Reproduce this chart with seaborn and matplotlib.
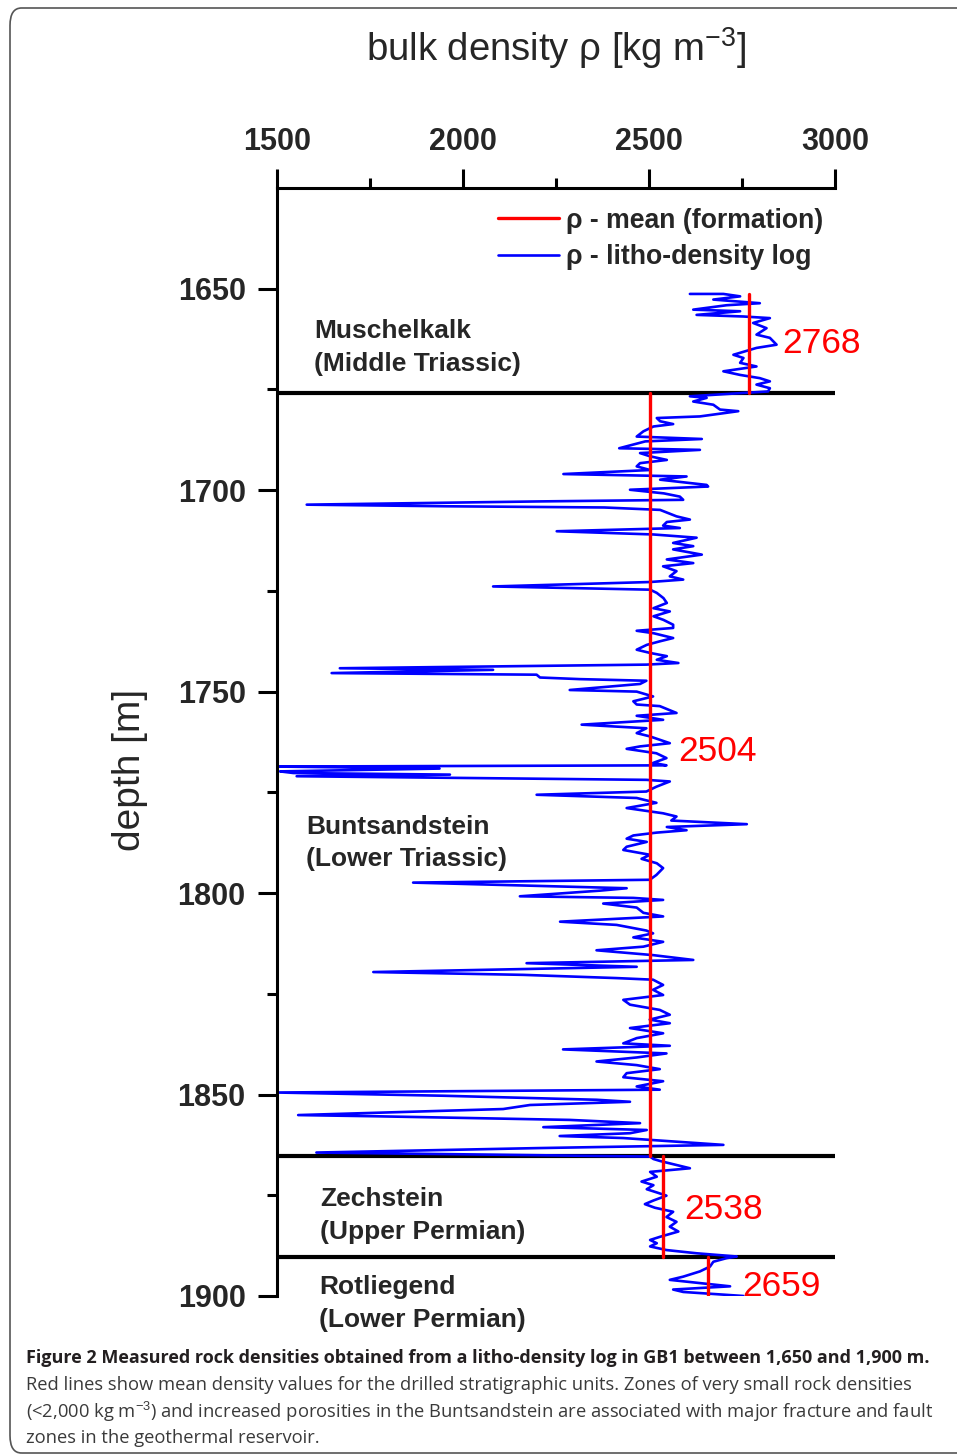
"""Litho-density log GB1, 1650-1900 m."""

import matplotlib.pyplot as plt
import pandas as pd
import seaborn as sns
from matplotlib import font_manager
from matplotlib.lines import Line2D
from matplotlib.patches import FancyBboxPatch

# DATA
depth_m = [
    1651.3, 1651.3, 1651.9, 1652.7, 1653.6, 1654.1, 1655.2, 1655.6, 1656.5, 1656.9,
    1657.3, 1658.5, 1659.8, 1661.4, 1662.2, 1663.9, 1664.7, 1666.4, 1667.2, 1668.4,
    1669.3, 1670.5, 1671.4, 1672.2, 1673.0, 1673.8, 1674.7, 1675.5,
    1676.7, 1677.1, 1678.0, 1678.8, 1680.0, 1680.4, 1681.7, 1682.1, 1682.9, 1683.6,
    1684.2, 1684.6, 1685.4, 1686.7, 1687.3, 1687.9, 1689.6, 1690.0, 1690.8, 1691.6,
    1692.5, 1693.3, 1694.1, 1695.0, 1696.0, 1696.6, 1697.4, 1698.7, 1699.1, 1699.9,
    1700.8, 1701.6, 1702.4, 1702.8, 1703.6, 1704.0, 1704.3, 1704.9, 1706.5, 1707.3,
    1707.9, 1708.8, 1709.4, 1710.2, 1711.0, 1711.8, 1713.1, 1713.9, 1714.7, 1716.0,
    1717.2, 1718.1, 1718.9, 1720.1, 1721.4, 1722.2, 1722.8, 1723.9, 1724.7, 1725.5,
    1726.8, 1728.0, 1729.3, 1730.1, 1731.3, 1732.2, 1733.4, 1734.2, 1734.9, 1735.5,
    1736.7, 1737.5, 1738.4, 1739.6, 1740.4, 1741.2, 1742.1, 1742.9, 1743.3, 1744.2,
    1744.6, 1745.4, 1745.8, 1746.5, 1746.9, 1747.3, 1748.1, 1749.6, 1750.0, 1751.2,
    1752.4, 1753.2, 1753.6, 1755.3, 1756.0, 1757.0, 1758.2, 1759.1, 1760.3, 1761.1,
    1762.8, 1763.6, 1764.2, 1765.3, 1766.5, 1767.7, 1768.3, 1768.6, 1769.1, 1769.8,
    1770.2, 1770.6, 1771.0, 1771.9, 1772.3, 1773.6, 1774.8, 1775.6, 1776.4, 1777.6,
    1778.9, 1780.2, 1781.0, 1782.0, 1782.9, 1783.6, 1784.4, 1785.0, 1785.7, 1786.5,
    1787.3, 1788.5, 1789.3, 1790.5, 1791.5, 1792.6, 1793.8, 1795.5, 1796.7, 1797.4,
    1798.8, 1799.4, 1800.8, 1801.2, 1801.7, 1802.6, 1803.6, 1804.9, 1805.8, 1807.1,
    1807.9, 1809.3, 1810.0, 1811.0, 1812.1, 1813.3, 1814.2, 1815.4, 1816.6, 1817.4,
    1818.3, 1819.6, 1820.3, 1821.1, 1821.5, 1822.8, 1824.0, 1825.3, 1826.5, 1827.7,
    1829.0, 1830.2, 1831.4, 1832.3, 1833.5, 1834.8, 1836.0, 1837.3, 1837.9, 1838.8,
    1839.8, 1840.8, 1841.8, 1842.7, 1843.7, 1844.7, 1845.7, 1846.7, 1848.0, 1848.8,
    1849.5, 1850.3, 1851.3, 1851.8, 1852.6, 1853.6, 1855.1, 1855.4, 1856.3, 1857.1,
    1858.1, 1858.8, 1859.6, 1860.3, 1860.8, 1861.3, 1862.5, 1863.3, 1864.4, 1865.4,
    1866.0, 1866.5, 1868.3, 1869.2, 1870.4, 1871.6, 1872.5, 1873.5, 1874.3, 1875.1,
    1876.3, 1877.2, 1878.1, 1879.1, 1880.4, 1881.6, 1882.8, 1884.0, 1885.3, 1886.1,
    1886.9, 1887.7, 1888.6, 1889.4, 1890.2,
    1890.6, 1891.5, 1892.7, 1893.9, 1895.2, 1896.0, 1896.8, 1897.6, 1898.4, 1899.0,
    1900.0,
]
rho_log = [
    2610, 2700, 2745, 2673, 2798, 2709, 2619, 2745, 2628, 2754,
    2825, 2780, 2816, 2789, 2825, 2843, 2789, 2727, 2754, 2745,
    2789, 2700, 2745, 2798, 2825, 2789, 2825, 2820,
    2610, 2655, 2619, 2673, 2691, 2740, 2637, 2521, 2530, 2565,
    2512, 2503, 2485, 2467, 2642, 2490, 2420, 2637, 2476, 2503,
    2548, 2476, 2467, 2503, 2270, 2601, 2530, 2655, 2659, 2449,
    2540, 2583, 2592, 2200, 1580, 1956, 2380, 2530, 2574, 2610,
    2548, 2538, 2583, 2252, 2512, 2628, 2565, 2619, 2565, 2642,
    2548, 2619, 2538, 2574, 2556, 2592, 2503, 2081, 2503, 2521,
    2539, 2548, 2512, 2556, 2512, 2539, 2565, 2565, 2467, 2512,
    2565, 2530, 2494, 2467, 2503, 2548, 2521, 2579, 2493, 1669,
    2081, 1647, 2198, 2207, 2314, 2493, 2476, 2287, 2467, 2511,
    2458, 2467, 2529, 2574, 2467, 2538, 2319, 2493, 2467, 2502,
    2556, 2476, 2440, 2520, 2547, 2511, 2547, 1500, 1937, 1508,
    1544, 1965, 1553, 2493, 2556, 2520, 2493, 2198, 2467, 2520,
    2440, 2538, 2574, 2560, 2763, 2548, 2601, 2520, 2458, 2440,
    2494, 2440, 2431, 2503, 2480, 2521, 2538, 2520, 2502, 1866,
    2440, 2368, 2153, 2458, 2538, 2377, 2467, 2485, 2538, 2261,
    2413, 2493, 2511, 2458, 2538, 2485, 2359, 2511, 2619, 2171,
    2467, 1759, 2162, 2413, 2511, 2538, 2511, 2538, 2431, 2449,
    2529, 2556, 2502, 2556, 2449, 2538, 2467, 2431, 2556, 2269,
    2547, 2467, 2359, 2467, 2529, 2440, 2431, 2538, 2467, 2529,
    1500, 1947, 2359, 2449, 2180, 2108, 1557, 1768, 2287, 2476,
    2216, 2494, 2449, 2260, 2431, 2511, 2700, 2198, 1606, 2503,
    2512, 2530, 2610, 2503, 2521, 2480, 2512, 2494, 2521, 2547,
    2512, 2489, 2516, 2565, 2547, 2574, 2556, 2579, 2530, 2503,
    2521, 2503, 2547, 2628, 2736,
    2709, 2673, 2664, 2637, 2592, 2556, 2637, 2718, 2565, 2592,
    2754,
]

formations = ["Muschelkalk", "Buntsandstein", "Zechstein", "Rotliegend"]
ages = ["Middle Triassic", "Lower Triassic", "Upper Permian", "Lower Permian"]
form_top = [1651.2, 1676.0, 1865.3, 1890.3]
form_base = [1676.0, 1865.3, 1890.3, 1900.0]
rho_mean = [2768, 2504, 2538, 2659]
boundaries = [1676.0, 1865.3, 1890.3]

log = pd.DataFrame({"depth": depth_m, "rho": rho_log})
means = pd.DataFrame({
    "formation": formations * 2,
    "depth": form_top + form_base,
    "rho": rho_mean * 2,
})


def pick_font(names):
    for n in names:
        try:
            font_manager.findfont(font_manager.FontProperties(family=n),
                                  fallback_to_default=False)
            return n
        except ValueError:
            pass
    return "DejaVu Sans"


# PLOT
sns.set_style("white")
plt.rcParams["font.family"] = ["Liberation Sans", "DejaVu Sans"]
plt.rcParams["mathtext.fontset"] = "custom"
plt.rcParams["mathtext.rm"] = "Liberation Sans"
plt.rcParams["mathtext.it"] = "Liberation Sans:italic"
plt.rcParams["mathtext.bf"] = "Liberation Sans:bold"
caption_font = pick_font(["Liberation Sans Narrow", "Open Sans"])

fig = plt.figure(figsize=(9.57, 14.56), dpi=100)
ax = fig.add_axes([0.2894, 0.1099, 0.5831, 0.7610])

for b in boundaries:
    ax.axhline(b, color="black", lw=3.0, zorder=1)

sns.lineplot(data=log, x="rho", y="depth", sort=False, estimator=None,
             color="#0000ff", lw=1.9, ax=ax, zorder=2)
sns.lineplot(data=means, x="rho", y="depth", units="formation", sort=False,
             estimator=None, color="#ff0000", lw=2.4, ax=ax, zorder=3)

ax.set_xlim(1500, 3000)
ax.set_ylim(1900, 1625)
ax.set(xlabel="", ylabel="")
ax.xaxis.tick_top()
ax.set_xticks([1500, 2000, 2500, 3000])
ax.set_xticks([1750, 2250, 2750], minor=True)
ax.set_yticks([1650, 1700, 1750, 1800, 1850, 1900])
ax.set_yticks([1675, 1725, 1775, 1825, 1875], minor=True)
ax.tick_params(which="major", length=13.5, width=2.2, direction="out",
               labelsize=22, color="black")
ax.tick_params(which="minor", length=7, width=2.2, direction="out", color="black")
ax.tick_params(axis="x", which="both", top=True, bottom=False, pad=9)
ax.tick_params(axis="y", which="both", left=True, pad=9)
for lab in ax.get_xticklabels() + ax.get_yticklabels():
    lab.set_fontweight("bold")
for side in ["right", "bottom"]:
    ax.spines[side].set_visible(False)
for side in ["left", "top"]:
    ax.spines[side].set_linewidth(2.2)
    ax.spines[side].set_color("black")

# formation names
label_x = [1600, 1578, 1616, 1613]
label_y = [1664.6, 1787.6, 1880.0, 1901.8]
for name, age, lx, ly in zip(formations, ages, label_x, label_y):
    ax.text(lx, ly, f"{name}\n({age})", fontsize=19, fontweight="bold",
            ha="left", va="center", linespacing=1.45, clip_on=False)

# mean values
num_x = [2858, 2580, 2596, 2752]
num_y = [1663.6, 1764.9, 1878.6, 1897.7]
for v, nx, ny in zip(rho_mean, num_x, num_y):
    ax.text(nx, ny, f"{v}", fontsize=25.5, color="#ff0000", ha="left",
            va="center", clip_on=False)

handles = [Line2D([], [], color="#ff0000", lw=2.4),
           Line2D([], [], color="#0000ff", lw=1.9)]
ax.legend(handles, ["\u03c1 - mean (formation)", "\u03c1 - litho-density log"],
          loc="upper right", bbox_to_anchor=(1.0, 0.993), frameon=False,
          prop={"weight": "bold", "size": 19.2}, handlelength=2.3,
          handletextpad=0.25, labelspacing=0.38, borderaxespad=0.05)

fig.text(556 / 957, 1 - 48 / 1456, "bulk density \u03c1 [kg m$^{-3}$]",
         fontsize=27.5, ha="center", va="center")
fig.text(130 / 957, 1 - 770 / 1456, "depth [m]", fontsize=28, rotation=90,
         ha="center", va="center")

# caption
cap_lines = [
    "Figure 2 Measured rock densities obtained from a litho-density log in GB1 "
    "between 1,650 and 1,900 m.",
    "Red lines show mean density values for the drilled stratigraphic units. "
    "Zones of very small rock densities",
    "(<2,000 kg m$^{\u22123}$) and increased porosities in the Buntsandstein are "
    "associated with major fracture and fault",
    "zones in the geothermal reservoir.",
]
cap_y = [1358, 1385, 1412, 1438]
cap_w = [914, 890, 910, 292]
renderer = fig.canvas.get_renderer()
size_regular = None
for i, (txt, cy, w) in enumerate(zip(cap_lines, cap_y, cap_w)):
    bold = i == 0
    t = fig.text(26 / 957, 1 - cy / 1456, txt, fontsize=14,
                 family=[caption_font, "DejaVu Sans"],
                 fontweight="bold" if bold else "normal",
                 color="#231f20" if bold else "#3a3a3a", ha="left", va="center")
    if i < 2:
        ext = t.get_window_extent(renderer)
        t.set_fontsize(14 * w / ext.width)
        if i == 1:
            size_regular = 14 * w / ext.width
    else:
        t.set_fontsize(size_regular)

frame = FancyBboxPatch((10 / 957, 3 / 1456), 1.05, 1 - 11 / 1456,
                       boxstyle="round,pad=0,rounding_size=0.012",
                       transform=fig.transFigure, fill=False,
                       edgecolor="#555555", lw=1.2)
fig.patches.append(frame)

plt.savefig("out.png", dpi=100)
